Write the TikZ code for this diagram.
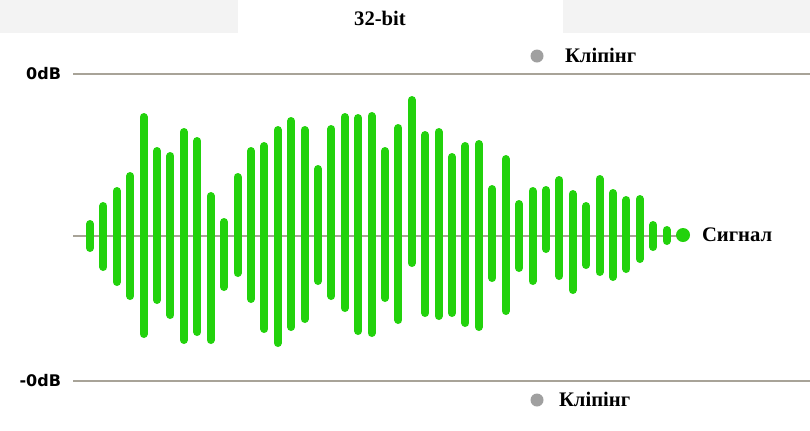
\documentclass[tikz,border=0pt]{standalone}
\usepackage{fontspec}
\setmainfont{Liberation Serif}
\newfontfamily\dbfont{DejaVu Sans}
\usepackage{tikz}
\definecolor{sig}{HTML}{22D20C}
\definecolor{axis}{HTML}{A8A398}
\definecolor{clipgray}{HTML}{A0A0A0}
\definecolor{band}{HTML}{F3F3F3}
\tikzset{px/.style={x=.75pt,y=-.75pt,line width=1.5pt},
  bar/.style={sig,line width=6pt,line cap=round},
  lbl/.style={font=\fontsize{15.5}{15.5}\selectfont\bfseries,inner sep=0pt,anchor=west},
  db/.style={font=\dbfont\fontsize{12}{12}\selectfont\bfseries,inner sep=0pt,anchor=east}}

\begin{document}
\begin{tikzpicture}[px]
  \useasboundingbox (0,0) rectangle (810,430);
  \fill[band] (0,0) rectangle (810,33);
  \fill[white] (238,0) rectangle (563,33);
  \node[font=\fontsize{15.5}{15.5}\selectfont\bfseries,inner sep=0pt] (title) at (380,18) {32-bit};
  % levels
  \draw[axis] (73,74) -- (810,74);
  \draw[axis] (73,381) -- (810,381);
  \draw[axis] (73,236) -- (680,236);
  \node[db] (top) at (62,74) {0dB};
  \node[db] (bot) at (62,381) {-0dB};
  % waveform
  \foreach \i/\t/\b in {0/224/248,1/206/267,2/191/282,3/176/296,4/117/334,5/151/300,6/156/315,
    7/132/340,8/141/332,9/196/340,10/222/287,11/177/273,12/151/299,13/146/329,14/130/343,
    15/121/327,16/130/319,17/169/281,18/129/296,19/117/308,20/118/331,21/116/333,22/151/298,
    23/128/320,24/100/263,25/135/313,26/132/316,27/157/313,28/146/323,29/144/327,30/189/278,
    31/159/311,32/204/268,33/191/281,34/190/249,35/180/276,36/194/290,37/206/265,38/179/272,
    39/193/277,40/200/269,41/199/259,42/225/247,43/230/241}{\draw[bar] ({90+13.41*\i},\t) -- ({90+13.41*\i},\b);}
  % legend
  \fill[sig] (683,235) circle(7);
  \node[lbl] (signal) at (701,235) {Сигнал};
  \fill[clipgray] (537,56) circle(6.5);
  \node[lbl] (cliptop) at (564,55) {Кліпінг};
  \fill[clipgray] (537,400) circle(6.5);
  \node[lbl] (clipbot) at (558,399) {Кліпінг};
\end{tikzpicture}
\end{document}
